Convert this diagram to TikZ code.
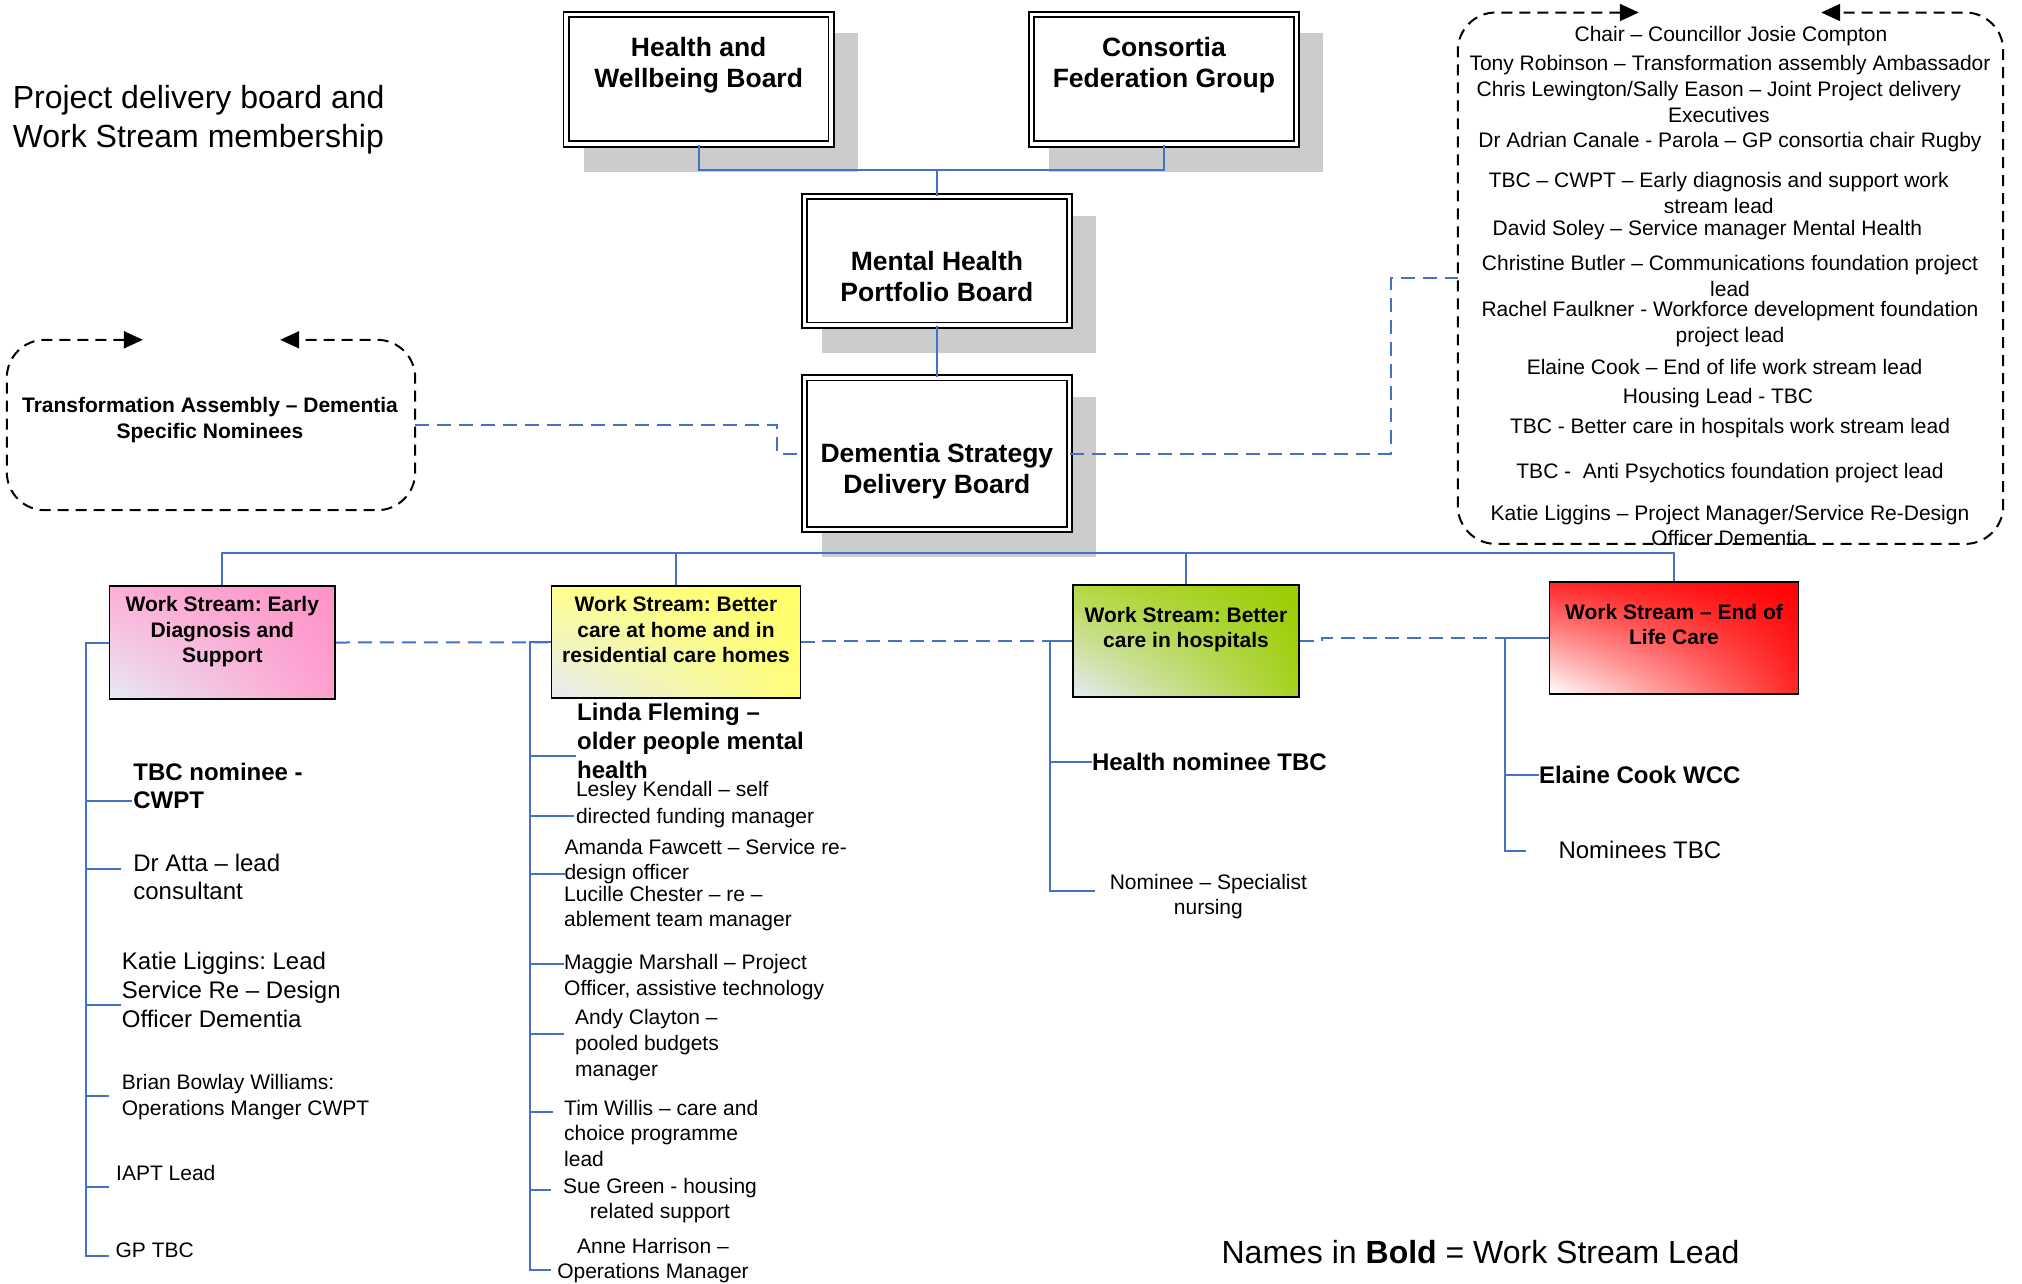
\documentclass[tikz,border=0pt]{standalone}
\usepackage{fontspec}
\setmainfont{Liberation Sans}
\usetikzlibrary{arrows.meta,backgrounds,shadings}
\definecolor{connblue}{RGB}{68,114,196}
\definecolor{wspink}{RGB}{255,146,200}
\definecolor{wsyellow}{RGB}{255,255,102}
\definecolor{wsgreen}{RGB}{153,204,0}
\definecolor{wsred}{RGB}{255,0,0}
\definecolor{wspale}{RGB}{230,234,246}
\newcommand{\fontTitle}{\fontsize{32}{39.3}\selectfont}
\newcommand{\fontBoard}{\fontsize{26.5}{31}\selectfont\bfseries}
\newcommand{\fontStream}{\fontsize{21}{25.3}\selectfont\bfseries}
\newcommand{\fontMemS}{\fontsize{21}{25.5}\selectfont}
\newcommand{\fontMemL}{\fontsize{24}{28.5}\selectfont}
\newcommand{\fontLegend}{\fontsize{32}{38}\selectfont}

\begin{document}
\frenchspacing
\begin{tikzpicture}[
    x=1pt, y=-1pt,
    board/.style={
        rectangle,
        draw,
        double,
        line width=1.8pt,
        double distance=3.5pt,
        fill=white,
        inner sep=0,
        minimum width=265,
    },
    boardtext/.style={align=center, anchor=north, inner sep=0, font=\fontBoard},
    stream/.style={rectangle, draw, line width=1.8pt, inner sep=0},
    pinkshade/.style={shade, shading=bilinear interpolation, lower left=wspale, upper left=wspink!75!white, lower right=wspink!88!white, upper right=wspink},
    yellowshade/.style={shade, shading=bilinear interpolation, lower left=wspale, upper left=wsyellow!75!white, lower right=wsyellow!88!white, upper right=wsyellow},
    greenshade/.style={shade, shading=bilinear interpolation, lower left=wspale, upper left=wsgreen!75!white, lower right=wsgreen!88!white, upper right=wsgreen},
    redshade/.style={shade, shading=bilinear interpolation, lower left=white, upper left=wsred!85!white, lower right=wsred!85!white, upper right=wsred},
    conn/.style={draw=connblue, line width=2pt},
    dconn/.style={conn, dash pattern=on 14pt off 8pt},
    dbox/.style={draw, line width=2pt, dash pattern=on 11pt off 7pt, rounded corners=38pt,
        {Triangle[length=19pt,width=17pt]}-{Triangle[length=19pt,width=17pt]}},
    member/.style={align=left, anchor=north west, inner sep=0, font=\fontMemS},
    membercentre/.style={align=center, anchor=north, inner sep=0, font=\fontMemS},
    shadowfill/.style={fill=black!20},
]
\useasboundingbox (0,0) rectangle (2022,1283);

\node (title) [member, font=\fontTitle] at (12.6,84.7) {Project delivery board and\\Work Stream membership};

\node (hwb) [board, minimum height=129.7] at (698.7,79.1) {};
\node (hwbtext) [boardtext] at (698.7,36.6) {Health and\\Wellbeing Board};
\node (cfg) [board, minimum height=129.7] at (1163.9,79.1) {};
\node (cfgtext) [boardtext] at (1163.9,36.6) {Consortia\\Federation Group};
\node (mhpb) [board, minimum height=128.5] at (936.9,260.8) {};
\node (mhpbtext) [boardtext] at (936.9,250.9) {Mental Health\\Portfolio Board};
\node (dsdb) [board, minimum height=151.6] at (936.9,453.6) {};
\node (dsdbtext) [boardtext] at (936.9,443.1) {Dementia Strategy\\Delivery Board};

\node (ta) [minimum width=408, minimum height=170, inner sep=0] at (211,425) {};
\node (tatext) [membercentre, font=\fontsize{21}{26}\selectfont\bfseries] at (210,397.2) {Transformation Assembly – Dementia\\Specific Nominees};
\draw[dbox] ([xshift=136]ta.north west) -- (ta.north west) -- (ta.south west) -- (ta.south east) -- (ta.north east) -- ([xshift=-135]ta.north east);

\node (chairs) [minimum width=545, minimum height=531, inner sep=0] at (1730.5,278.2) {};
\draw[dbox] ([xshift=181]chairs.north west) -- (chairs.north west) -- (chairs.south west) -- (chairs.south east) -- (chairs.north east) -- ([xshift=-182]chairs.north east);
\node (c1) [membercentre] at (1731,26.2) {Chair – Councillor Josie Compton};
\node (c2) [membercentre] at (1730,54.7) {Tony Robinson – Transformation assembly Ambassador};
\node (c3) [membercentre] at (1718.8,81.2) {Chris Lewington/Sally Eason – Joint Project delivery\\Executives};
\node (c4) [membercentre] at (1730,132.2) {Dr Adrian Canale - Parola – GP consortia chair Rugby};
\node (c5) [membercentre] at (1718.8,172.2) {TBC – CWPT – Early diagnosis and support work\\stream lead};
\node (c6) [membercentre] at (1707.4,220.2) {David Soley – Service manager Mental Health};
\node (c7) [membercentre, font=\fontsize{21}{26}\selectfont] at (1730,255.2) {Christine Butler – Communications foundation project\\lead};
\node (c8) [membercentre] at (1730,301.2) {Rachel Faulkner - Workforce development foundation\\project lead};
\node (c9) [membercentre] at (1724.6,359.2) {Elaine Cook – End of life work stream lead};
\node (c10) [membercentre] at (1718,388.2) {Housing Lead - TBC};
\node (c11) [membercentre] at (1730,418.2) {TBC - Better care in hospitals work stream lead};
\node (c12) [membercentre] at (1730,463.2) {TBC - \ Anti Psychotics foundation project lead};
\node (c13) [membercentre] at (1730,504.7) {Katie Liggins – Project Manager/Service Re-Design\\Officer Dementia};

\node (eds) [stream, pinkshade, minimum width=225.5, minimum height=113] at (222.3,642.5) {};
\node (edstext) [boardtext, font=\fontStream] at (222.3,596.5) {Work Stream: Early\\Diagnosis and\\Support};
\node (bch) [stream, yellowshade, minimum width=249, minimum height=112] at (676,642.3) {};
\node (bchtext) [boardtext, font=\fontStream] at (676,596.5) {Work Stream: Better\\care at home and in\\residential care homes};
\node (bih) [stream, greenshade, minimum width=226.7, minimum height=112] at (1186,640.8) {};
\node (bihtext) [boardtext, font=\fontStream] at (1186,607.2) {Work Stream: Better\\care in hospitals};
\node (eol) [stream, redshade, minimum width=249, minimum height=112] at (1674,637.7) {};
\node (eoltext) [boardtext, font=\fontStream] at (1674,604.2) {Work Stream – End of\\Life Care};

\node (m1) [member, font=\fontsize{24}{27.7}\selectfont\bfseries] at (133.2,763.1) {TBC nominee -\\CWPT};
\node (m2) [member, font=\fontsize{24}{28}\selectfont] at (133.2,854) {Dr Atta – lead\\consultant};
\node (m3) [member, font=\fontsize{24}{29}\selectfont] at (121.7,952.1) {Katie Liggins: Lead\\Service Re – Design\\Officer Dementia};
\node (m4) [member] at (121.7,1074.5) {Brian Bowlay Williams:\\Operations Manger CWPT};
\node (m5) [member] at (116,1165.2) {IAPT Lead};
\node (m6) [member] at (115.4,1242.2) {GP TBC};

\node (n1) [member, font=\fontsize{24}{29}\selectfont\bfseries] at (577,703.2) {Linda Fleming –\\older people mental\\health};
\node (n2) [member, font=\fontsize{21}{26.8}\selectfont] at (575.8,781.3) {Lesley Kendall – self\\directed funding manager};
\node (n3) [member] at (564.3,839) {Amanda Fawcett – Service re-\\design officer};
\node (n4) [member] at (564,886) {Lucille Chester – re –\\ablement team manager};
\node (n5) [member] at (564,954.2) {Maggie Marshall – Project\\Officer, assistive technology};
\node (n6) [member, font=\fontsize{21}{26}\selectfont] at (575,1009.5) {Andy Clayton –\\pooled budgets\\manager};
\node (n7) [member] at (564,1099.9) {Tim Willis – care and\\choice programme\\lead};
\node (n8) [membercentre] at (660,1177.8) {Sue Green - housing\\related support};
\node (n9) [membercentre] at (653,1237.8) {Anne Harrison –\\Operations Manager};

\node (h1) [member, font=\fontMemL\bfseries] at (1091.8,753) {Health nominee TBC};
\node (h2) [membercentre] at (1208.4,874) {Nominee – Specialist\\nursing};

\node (e1) [member, font=\fontMemL\bfseries] at (1539,765.9) {Elaine Cook WCC};
\node (e2) [member, font=\fontMemL] at (1558.3,840.6) {Nominees TBC};

\node (legend) [anchor=north, inner sep=0, font=\fontLegend] at (1480.5,1239.8) {Names in \textbf{Bold} = Work Stream Lead};

\coordinate (topbus) at (936.9,170);
\coordinate (lowbus) at (936.9,552.5);
\draw[conn] (hwb.south) |- (topbus) -| (cfg.south);
\draw[conn] (topbus) -- (mhpb.north);
\draw[conn] (mhpb.south) -- (dsdb.north);
\draw[conn] (eds.north) |- (lowbus) -| (eol.north);
\draw[conn] (bch.north) -- (bch.north |- lowbus);
\draw[conn] (bih.north) -- (bih.north |- lowbus);

\draw[dconn] (ta.east) -- ++(362,0) |- (dsdb.west);
\draw[dconn] (dsdb.east) -- ++(320.5,0) |- (chairs.west);
\draw[dconn] (eds.east) -- (bch.west);
\draw[dconn] (bch.east) -- ++(19,0) |- (bih.west);
\draw[dconn] (bih.east) -- ++(22,0) |- (eol.west);

\coordinate (edssp) at (86,642.5);
\coordinate (edsend) at (109,1256);
\coordinate (eds1) at (132,800.7);
\coordinate (eds2) at (120.5,869);
\coordinate (eds3) at (120.5,1005);
\coordinate (eds4) at (109,1096);
\coordinate (eds5) at (109,1187);
\draw[conn] (eds.west) -- (edssp) |- (edsend);
\draw[conn] (eds1 -| edssp) -- (eds1);
\draw[conn] (eds2 -| edssp) -- (eds2);
\draw[conn] (eds3 -| edssp) -- (eds3);
\draw[conn] (eds4 -| edssp) -- (eds4);
\draw[conn] (eds5 -| edssp) -- (eds5);

\coordinate (bchsp) at (529.5,642.3);
\coordinate (bchend) at (551,1270);
\coordinate (bch1) at (576,756);
\coordinate (bch2) at (574,816.3);
\coordinate (bch3) at (565.5,873.5);
\coordinate (bch4) at (564,964);
\coordinate (bch5) at (564,1033.5);
\coordinate (bch6) at (553,1112);
\coordinate (bch7) at (551,1190);
\draw[conn] (bch.west) -- (bchsp) |- (bchend);
\draw[conn] (bch1 -| bchsp) -- (bch1);
\draw[conn] (bch2 -| bchsp) -- (bch2);
\draw[conn] (bch3 -| bchsp) -- (bch3);
\draw[conn] (bch4 -| bchsp) -- (bch4);
\draw[conn] (bch5 -| bchsp) -- (bch5);
\draw[conn] (bch6 -| bchsp) -- (bch6);
\draw[conn] (bch7 -| bchsp) -- (bch7);

\coordinate (bihsp) at (1050.3,640.8);
\coordinate (bihend) at (1095.3,890.6);
\draw[conn] (bih.west) -- (bihsp) |- (bihend);
\draw[conn] (h1.west -| bihsp) -- (h1.west);

\coordinate (eolsp) at (1504.6,637.7);
\coordinate (eolend) at (1526,850.5);
\draw[conn] (eol.west) -- (eolsp) |- (eolend);
\draw[conn] (e1.west -| eolsp) -- (e1.west);

\begin{scope}[on background layer]
\draw[conn] (dsdb.south) -- (lowbus);
\fill[shadowfill] ([shift={(18.5,19.9)}]hwb.north west) rectangle ([shift={(25.6,27)}]hwb.south east);
\fill[shadowfill] ([shift={(18.5,19.9)}]cfg.north west) rectangle ([shift={(25.6,27)}]cfg.south east);
\fill[shadowfill] ([shift={(18.5,19.9)}]mhpb.north west) rectangle ([shift={(25.6,27)}]mhpb.south east);
\fill[shadowfill] ([shift={(18.5,19.9)}]dsdb.north west) rectangle ([shift={(25.6,27)}]dsdb.south east);
\end{scope}

\end{tikzpicture}
\end{document}
